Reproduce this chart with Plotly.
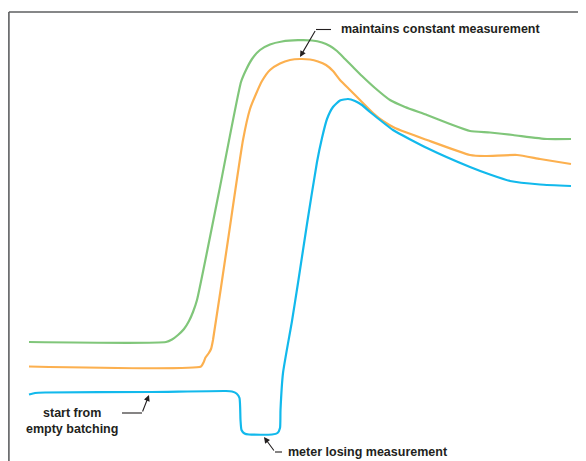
import plotly.graph_objects as go

# Curves (x = time position, y = signal position, screen units)
green_x = [29, 166, 172, 178, 184, 189, 193, 197, 219, 241, 246, 252, 260, 270, 282, 298, 312, 322, 330, 337, 345, 353, 362, 375, 390, 405, 427, 450, 470, 490, 513, 547, 571]
green_y = [342, 342, 339.5, 335, 329, 321, 312, 300, 192, 82, 70, 59, 50, 44.5, 41.5, 40.2, 40.5, 42.5, 46, 51, 59, 67, 76, 88, 100, 107, 115, 124, 131, 132.5, 135, 139, 139]

orange_x = [29, 201, 203.5, 205.5, 208.5, 211, 213, 228, 243, 250, 256, 262, 270, 280, 290, 300, 310, 318, 326, 333, 340, 350, 360, 373, 383, 395, 427, 470, 485, 517, 540, 571]
orange_y = [366.5, 366.5, 362.5, 357.5, 353.5, 349, 340, 240, 140, 109, 94, 81, 70, 63.5, 60, 59, 59.5, 61.5, 65, 71, 80, 90, 100, 113, 121, 128, 140, 155, 156, 155, 159, 164]

blue_x = [29, 35, 45, 150, 226, 232, 236.5, 239.5, 240.5, 241.5, 244.5, 249, 272, 277.5, 280, 280.5, 283, 292, 298, 307, 317, 322, 327, 333, 340, 348, 355, 362, 370, 380, 393, 427, 470, 490, 510, 540, 571]
blue_y = [394.5, 393, 392.5, 392, 391, 391.5, 393.5, 398, 420, 430, 433.5, 434.5, 434.5, 433, 428, 410, 373, 321, 283, 224, 162, 138, 119, 107, 100.5, 99, 101, 105, 112, 120, 130, 148, 167, 174.5, 181, 184.5, 186]

labels = ["maintains constant measurement", "start from<br>empty batching", "meter losing measurement"]

GREEN = "#80C67A"
ORANGE = "#FCB04F"
BLUE = "#12B9EC"
TEXT = "#231F20"

fig = go.Figure()
for xs, ys, c in [(green_x, green_y, GREEN), (orange_x, orange_y, ORANGE), (blue_x, blue_y, BLUE)]:
    fig.add_trace(go.Scatter(x=xs, y=ys, mode="lines",
                             line=dict(color=c, width=2.2, shape="spline", smoothing=0.5),
                             hoverinfo="skip", showlegend=False, cliponaxis=False))

font = dict(family="Liberation Sans, Arial, sans-serif", size=12.5, color=TEXT)

# text labels
fig.add_annotation(x=339, y=29, text="<b>%s</b>" % labels[0], showarrow=False,
                   xanchor="left", yanchor="middle", font=font)
fig.add_annotation(x=72, y=421, text="<b>%s</b>" % labels[1], showarrow=False,
                   xanchor="center", yanchor="middle", align="center", font=font)
fig.add_annotation(x=286, y=451.5, text="<b>%s</b>" % labels[2], showarrow=False,
                   xanchor="left", yanchor="middle", font=font)

# arrows
arrows = [((300, 57), (316, 29.5)), ((149, 395), (142, 413)), ((264, 437), (275, 452))]
for (hx, hy), (tx, ty) in arrows:
    fig.add_annotation(x=hx, y=hy, ax=tx, ay=ty, axref="x", ayref="y", xref="x", yref="y",
                       text="", showarrow=True, arrowhead=2, arrowsize=1.1, arrowwidth=1.1,
                       arrowcolor=TEXT, standoff=0, startstandoff=0)

# leader horizontals
for x0, x1, y in [(316, 331, 29.5), (122, 142, 413), (275, 282, 452)]:
    fig.add_shape(type="line", x0=x0, x1=x1, y0=y, y1=y, xref="x", yref="y",
                  line=dict(color=TEXT, width=1.1))

# frame (left and top edges visible)
fig.add_shape(type="line", x0=8.9, x1=8.9, y0=12, y1=461, xref="x", yref="y",
              line=dict(color="#5E5F61", width=1.6))
fig.add_shape(type="line", x0=8.9, x1=586, y0=12, y1=12, xref="x", yref="y",
              line=dict(color="#5E5F61", width=1.6))

# page body has an 8px margin: figure covers the window from (8, 8)
fig.update_layout(
    width=578, height=453,
    margin=dict(l=0, r=0, t=0, b=0),
    paper_bgcolor="white", plot_bgcolor="white",
    xaxis=dict(range=[8, 586], visible=False, fixedrange=True),
    yaxis=dict(range=[461, 8], visible=False, fixedrange=True),
)

fig.write_html("out.html")
